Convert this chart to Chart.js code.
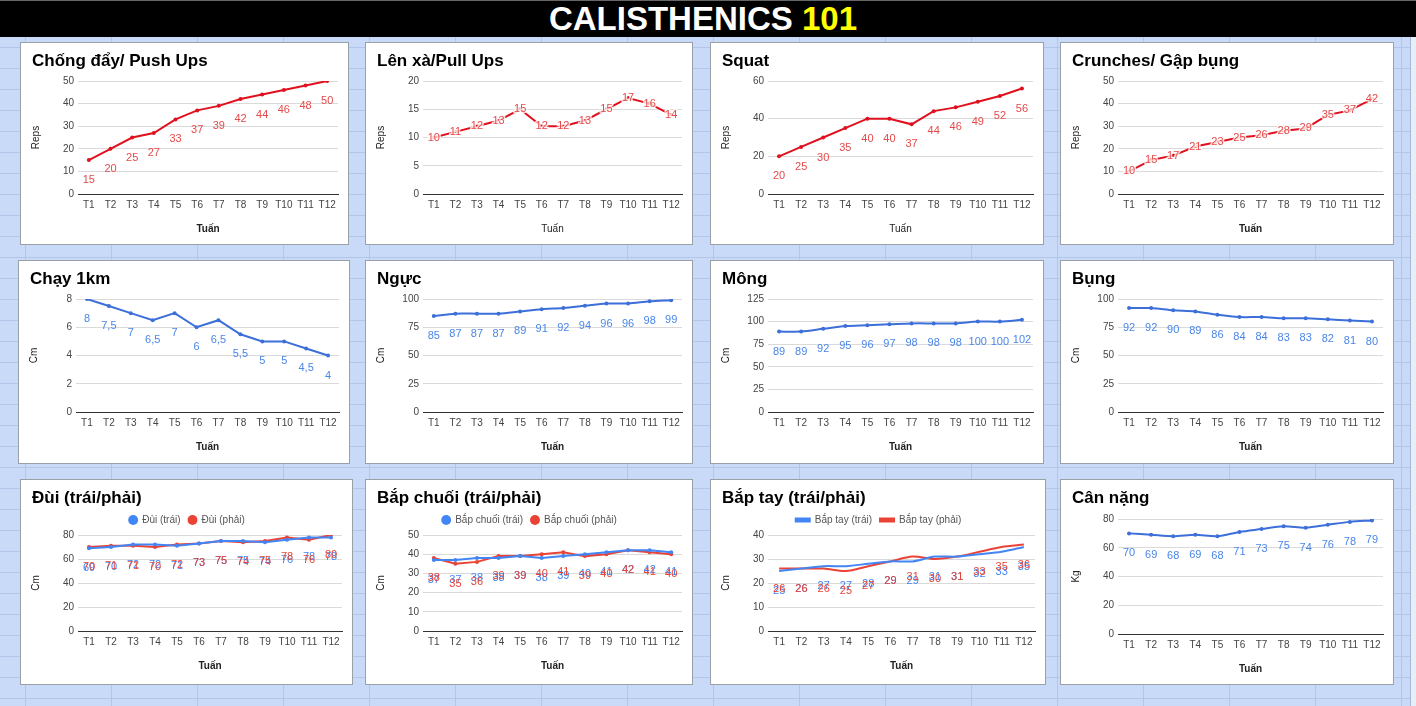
<!DOCTYPE html>
<html><head><meta charset="utf-8">
<script src="https://cdn.jsdelivr.net/npm/chart.js@4.4.1/dist/chart.umd.min.js"></script>
<style>
html,body{margin:0;padding:0;}
body{width:1416px;height:706px;overflow:hidden;position:relative;background-color:#c9daf8;
background-image:linear-gradient(to right,#b3c5e8 1px,transparent 1px),linear-gradient(to bottom,#b3c5e8 1px,transparent 1px);
background-size:86px 21px,86px 21px;background-position:25px 0,0 5px;}
#hdr{position:absolute;left:0;top:0;width:1416px;height:37px;background:#000;border-top:1px solid #666;box-sizing:border-box;}
#hdr div{width:1406px;text-align:center;color:#fff;font:bold 33px 'Liberation Sans',Arial,sans-serif;line-height:36px;}
#hdr span{color:#ffff00;}
#edge{position:absolute;left:1410px;top:37px;width:6px;height:669px;background:#e8eef8;border-left:1px solid #a8b8d8;}
.box{position:absolute;background:#fff;border:1px solid #9aa0a8;box-sizing:border-box;}
.box canvas{position:absolute;left:0;top:0;}
</style></head>
<body>
<div id="hdr"><div>CALISTHENICS <span>101</span></div></div>
<div id="edge"></div>
<script>
const weeks = ['T1','T2','T3','T4','T5','T6','T7','T8','T9','T10','T11','T12'];
const pushUps = [15,20,25,27,33,37,39,42,44,46,48,50];
const pullUps = [10,11,12,13,15,12,12,13,15,17,16,14];
const squats = [20,25,30,35,40,40,37,44,46,49,52,56];
const crunches = [10,15,17,21,23,25,26,28,29,35,37,42];
const run1km = [8,7.5,7,6.5,7,6,6.5,5.5,5,5,4.5,4];
const chest = [85,87,87,87,89,91,92,94,96,96,98,99];
const glutes = [89,89,92,95,96,97,98,98,98,100,100,102];
const belly = [92,92,90,89,86,84,84,83,83,82,81,80];
const thighLeft = [69,70,72,72,71,73,75,75,74,76,78,78];
const thighRight = [70,71,71,70,72,73,75,74,75,78,76,80];
const calfLeft = [37,37,38,38,39,38,39,40,41,42,42,41];
const calfRight = [38,35,36,39,39,40,41,39,40,42,41,40];
const armLeft = [25,26,27,27,28,29,29,31,31,32,33,35];
const armRight = [26,26,26,25,27,29,31,30,31,33,35,36];
const weight = [70,69,68,69,68,71,73,75,74,76,78,79];

const FONT = "'Liberation Sans', Arial, sans-serif";
Chart.defaults.font.family = FONT;
Chart.defaults.color = '#444';

const RED = '#e0101e', RED_L = '#e54a4a';
const BLUE = '#3c6fd9', BLUE_L = '#4a86e8';
const GBLUE = '#4285f4', GRED = '#ea4335';

Chart.register({
  id: 'dl',
  afterDatasetsDraw(chart, args, opts) {
    if (!opts || !opts.show) return;
    const ctx = chart.ctx;
    ctx.save();
    ctx.font = '11px ' + FONT;
    ctx.textAlign = 'center';
    ctx.textBaseline = 'middle';
    chart.data.datasets.forEach((ds, i) => {
      const meta = chart.getDatasetMeta(i);
      meta.data.forEach((pt, j) => {
        const v = ds.data[j];
        const txt = opts.comma ? String(v).replace('.', ',') : String(v);
        const y = pt.y + opts.offset;
        if (opts.halo) {
          ctx.lineWidth = 3; ctx.strokeStyle = 'rgba(255,255,255,0.8)';
          ctx.strokeText(txt, pt.x, y);
        }
        ctx.fillStyle = ds.labelColor;
        ctx.fillText(txt, pt.x, y);
      });
    });
    ctx.restore();
  }
});

function build(s) {
  const box = document.createElement('div');
  box.className = 'box';
  box.style.left = s.x + 'px'; box.style.top = s.y + 'px';
  box.style.width = s.w + 'px'; box.style.height = s.h + 'px';
  document.body.appendChild(box);
  const cv = document.createElement('canvas');
  cv.width = s.w - 2; cv.height = s.h - 2;
  box.appendChild(cv);
  const hasLegend = !!s.legend;
  new Chart(cv, {
    type: 'line',
    data: {
      labels: weeks,
      datasets: s.series.map(d => ({
        label: d.label || s.title, data: d.data,
        borderColor: d.color, backgroundColor: d.color, labelColor: d.labelColor || d.color,
        borderWidth: 2, pointRadius: d.points === false ? 0 : 2, pointBackgroundColor: d.color,
        pointBorderWidth: 0, pointHoverRadius: 0, tension: s.tension || 0, fill: false
      }))
    },
    options: {
      responsive: false, animation: false, devicePixelRatio: 1,
      layout: {padding: {left: 11, right: 10, top: 0, bottom: s.padBottom}},
      plugins: {
        title: {display: true, text: s.title, align: 'start', color: '#000',
          font: {size: 17, weight: 'bold', lineHeight: 1},
          padding: {top: 10, bottom: hasLegend ? 0 : (s.titleBottom || 11)}},
        legend: hasLegend ? {display: true, position: 'top', align: 'center',
          labels: {color: '#555', font: {size: 10}, padding: 8,
            usePointStyle: s.legend === 'circle', pointStyle: 'circle',
            boxWidth: s.legend === 'circle' ? 8 : 14, boxHeight: s.legend === 'circle' ? 7 : 3}} : {display: false},
        tooltip: {enabled: false},
        dl: {show: true, offset: s.offset, halo: !!s.halo, comma: !!s.comma}
      },
      scales: {
        x: {offset: true, grid: {display: false, drawTicks: false}, border: {display: true, color: '#333', width: 1},
          ticks: {color: '#444', font: {size: 10}, padding: 5, maxRotation: 0, autoSkip: false},
          title: {display: true, text: 'Tuấn', color: '#222', font: {size: 10, weight: s.xBold === false ? 'normal' : 'bold'}, padding: {top: 7, bottom: 4}}},
        y: {min: 0, max: s.max, ticks: {stepSize: s.step, color: '#444', font: {size: 10}, padding: 4},
          grid: {color: '#dadada', drawTicks: false}, border: {display: false},
          title: {display: true, text: s.yTitle, color: '#222', font: {size: 10}, padding: {top: -2, bottom: 0}},
          afterFit(sc) { sc.width = 46; }}
      }
    }
  });
}

// Row 1
build({x:20,y:42,w:329,h:203,padBottom:5,title:'Chống đẩy/ Push Ups',yTitle:'Reps',max:50,step:10,offset:20,
  series:[{data:pushUps,color:RED,labelColor:RED_L}]});
build({x:365,y:42,w:328,h:203,padBottom:5,title:'Lên xà/Pull Ups',yTitle:'Reps',max:20,step:5,offset:0,halo:true,xBold:false,
  series:[{data:pullUps,color:RED,labelColor:RED_L}]});
build({x:710,y:42,w:334,h:203,padBottom:5,title:'Squat',yTitle:'Reps',max:60,step:20,offset:20,xBold:false,
  series:[{data:squats,color:RED,labelColor:RED_L}]});
build({x:1060,y:42,w:334,h:203,padBottom:5,title:'Crunches/ Gập bụng',yTitle:'Reps',max:50,step:10,offset:0,halo:true,
  series:[{data:crunches,color:RED,labelColor:RED_L}]});
// Row 2
build({x:18,y:260,w:332,h:204,padBottom:6,title:'Chạy 1km',yTitle:'Cm',max:8,step:2,offset:20,comma:true,
  series:[{data:run1km,color:BLUE,labelColor:BLUE_L}]});
build({x:365,y:260,w:328,h:204,padBottom:6,title:'Ngực',yTitle:'Cm',max:100,step:25,offset:20,tension:0.3,
  series:[{data:chest,color:BLUE,labelColor:BLUE_L}]});
build({x:710,y:260,w:334,h:204,padBottom:6,title:'Mông',yTitle:'Cm',max:125,step:25,offset:20,tension:0.3,
  series:[{data:glutes,color:BLUE,labelColor:BLUE_L}]});
build({x:1060,y:260,w:334,h:204,padBottom:6,title:'Bụng',yTitle:'Cm',max:100,step:25,offset:20,tension:0.3,
  series:[{data:belly,color:BLUE,labelColor:BLUE_L}]});
// Row 3
build({x:20,y:479,w:333,h:206,padBottom:8,title:'Đùi (trái/phải)',yTitle:'Cm',max:80,step:20,offset:20,legend:'circle',
  series:[{label:'Đùi (trái)',data:thighLeft,color:GBLUE},{label:'Đùi (phải)',data:thighRight,color:GRED}]});
build({x:365,y:479,w:328,h:206,padBottom:8,title:'Bắp chuối (trái/phải)',yTitle:'Cm',max:50,step:10,offset:20,legend:'circle',
  series:[{label:'Bắp chuối (trái)',data:calfLeft,color:GBLUE},{label:'Bắp chuối (phải)',data:calfRight,color:GRED}]});
build({x:710,y:479,w:336,h:206,padBottom:8,title:'Bắp tay (trái/phải)',yTitle:'Cm',max:40,step:10,offset:20,legend:'line',tension:0.3,
  series:[{label:'Bắp tay (trái)',data:armLeft,color:GBLUE,points:false},{label:'Bắp tay (phải)',data:armRight,color:GRED,points:false}]});
build({x:1060,y:479,w:334,h:206,padBottom:5,titleBottom:12,title:'Cân nặng',yTitle:'Kg',max:80,step:20,offset:20,tension:0.3,
  series:[{data:weight,color:BLUE,labelColor:BLUE_L}]});
</script>
</body></html>
